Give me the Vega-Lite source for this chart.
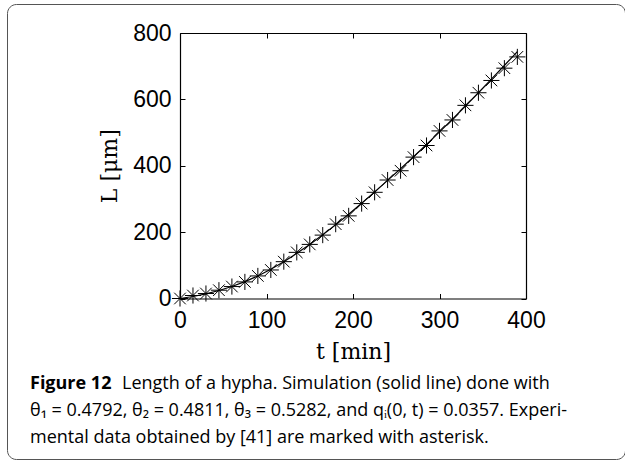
{
  "$schema": "https://vega.github.io/schema/vega-lite/v6.json",
  "autosize": {"type": "none"},
  "padding": {"left": 7, "top": 4, "right": 0, "bottom": 2},
  "width": 618,
  "height": 455,
  "background": "white",
  "config": {
    "view": {"stroke": "#555", "strokeWidth": 1, "cornerRadius": 9},
    "axis": {
      "domainColor": "black", "domainWidth": 1.2,
      "tickColor": "black", "tickSize": -5, "tickWidth": 1,
      "labelFont": "Liberation Sans", "labelFontSize": 23, "labelColor": "black", "labelFlush": false,
      "grid": false,
      "titleFont": "DejaVu Serif", "titleFontSize": 22, "titleFontWeight": "normal", "titleColor": "black"
    }
  },
  "datasets": {
    "sim": [
      {"t": 0, "L": 0}, {"t": 15, "L": 6}, {"t": 30, "L": 14}, {"t": 45, "L": 24},
      {"t": 60, "L": 36}, {"t": 75, "L": 51}, {"t": 90, "L": 68}, {"t": 105, "L": 88},
      {"t": 120, "L": 111}, {"t": 135, "L": 136}, {"t": 150, "L": 163}, {"t": 165, "L": 192},
      {"t": 180, "L": 222}, {"t": 195, "L": 254}, {"t": 210, "L": 287}, {"t": 225, "L": 321},
      {"t": 240, "L": 356}, {"t": 255, "L": 391}, {"t": 270, "L": 427}, {"t": 285, "L": 464},
      {"t": 300, "L": 502}, {"t": 315, "L": 540}, {"t": 330, "L": 580}, {"t": 345, "L": 620},
      {"t": 360, "L": 661}, {"t": 375, "L": 702}, {"t": 390, "L": 744}
    ],
    "exp": [
      {"t": 0, "L": 0}, {"t": 15, "L": 9}, {"t": 30, "L": 15}, {"t": 45, "L": 25},
      {"t": 60, "L": 36}, {"t": 75, "L": 50}, {"t": 90, "L": 68}, {"t": 105, "L": 86},
      {"t": 120, "L": 111}, {"t": 135, "L": 139}, {"t": 150, "L": 163}, {"t": 165, "L": 191},
      {"t": 180, "L": 224}, {"t": 195, "L": 249}, {"t": 210, "L": 286}, {"t": 225, "L": 320},
      {"t": 240, "L": 357}, {"t": 255, "L": 385}, {"t": 270, "L": 426}, {"t": 285, "L": 461},
      {"t": 300, "L": 505}, {"t": 315, "L": 538}, {"t": 330, "L": 582}, {"t": 345, "L": 620},
      {"t": 360, "L": 657}, {"t": 375, "L": 694}, {"t": 390, "L": 728}
    ],
    "cap1a": [{"line": 1, "text": "Figure 12"}],
    "cap1b": [{"line": 1, "text": "Length of a hypha. Simulation (solid line) done with"}],
    "cap2": [{"line": 2, "text": "θ₁ = 0.4792, θ₂ = 0.4811, θ₃ = 0.5282, and qᵢ(0, t) = 0.0357. Experi-"}],
    "cap3": [{"line": 3, "text": "mental data obtained by [41] are marked with asterisk."}]
  },
  "layer": [
    {
      "data": {"name": "exp"},
      "mark": {"type": "point", "shape": "M-1,0L1,0M0,-1L0,1M-0.72,-0.72L0.72,0.72M-0.72,0.72L0.72,-0.72",
               "filled": false, "stroke": "black", "strokeWidth": 1, "size": 260, "opacity": 1},
      "encoding": {
        "x": {"field": "t", "type": "quantitative",
              "scale": {"domain": [0, 400], "range": [173, 519], "nice": false, "zero": false},
              "axis": {"orient": "bottom", "offset": -160.5, "values": [0, 100, 200, 300, 400],
                       "labelPadding": 16, "title": "t [min]", "titlePadding": 9}},
        "y": {"field": "L", "type": "quantitative",
              "scale": {"domain": [0, 800], "range": [294.5, 29], "nice": false, "zero": false},
              "axis": {"orient": "left", "offset": -173, "values": [0, 200, 400, 600, 800],
                       "labelPadding": 14, "title": "L [μm]", "titlePadding": 11}}
      }
    },
    {
      "data": {"name": "sim"},
      "mark": {"type": "line", "color": "black", "strokeWidth": 1.2},
      "encoding": {
        "x": {"field": "t", "type": "quantitative",
              "scale": {"domain": [0, 400], "range": [173, 519], "nice": false, "zero": false},
              "axis": {"orient": "top", "offset": -29, "values": [0, 100, 200, 300, 400],
                       "domain": true, "ticks": true, "labels": false, "title": null}},
        "y": {"field": "L", "type": "quantitative",
              "scale": {"domain": [0, 800], "range": [294.5, 29], "nice": false, "zero": false},
              "axis": {"orient": "right", "offset": -99, "values": [0, 200, 400, 600, 800],
                       "domain": true, "ticks": true, "labels": false, "title": null}}
      }
    },
    {
      "data": {"name": "cap1a"},
      "mark": {"type": "text", "align": "left", "baseline": "alphabetic", "font": "Open Sans",
               "fontSize": 18, "fontWeight": "bold", "color": "black"},
      "encoding": {
        "x": {"datum": 0, "type": "quantitative", "scale": {"domain": [0, 1], "range": [23, 600]}, "axis": null},
        "y": {"field": "line", "type": "quantitative", "scale": {"domain": [1, 3], "range": [385, 439]}, "axis": null},
        "text": {"field": "text"}
      }
    },
    {
      "data": {"name": "cap1b"},
      "mark": {"type": "text", "align": "left", "baseline": "alphabetic", "font": "Open Sans",
               "fontSize": 18, "color": "black", "dx": 92},
      "encoding": {
        "x": {"datum": 0, "type": "quantitative", "scale": {"domain": [0, 1], "range": [23, 600]}, "axis": null},
        "y": {"field": "line", "type": "quantitative", "scale": {"domain": [1, 3], "range": [385, 439]}, "axis": null},
        "text": {"field": "text"}
      }
    },
    {
      "data": {"name": "cap2"},
      "mark": {"type": "text", "align": "left", "baseline": "alphabetic", "font": "Open Sans",
               "fontSize": 18, "color": "black"},
      "encoding": {
        "x": {"datum": 0, "type": "quantitative", "scale": {"domain": [0, 1], "range": [23, 600]}, "axis": null},
        "y": {"field": "line", "type": "quantitative", "scale": {"domain": [1, 3], "range": [385, 439]}, "axis": null},
        "text": {"field": "text"}
      }
    },
    {
      "data": {"name": "cap3"},
      "mark": {"type": "text", "align": "left", "baseline": "alphabetic", "font": "Open Sans",
               "fontSize": 18, "color": "black"},
      "encoding": {
        "x": {"datum": 0, "type": "quantitative", "scale": {"domain": [0, 1], "range": [23, 600]}, "axis": null},
        "y": {"field": "line", "type": "quantitative", "scale": {"domain": [1, 3], "range": [385, 439]}, "axis": null},
        "text": {"field": "text"}
      }
    }
  ],
  "resolve": {"scale": {"x": "independent", "y": "independent"}, "axis": {"x": "independent", "y": "independent"}}
}
